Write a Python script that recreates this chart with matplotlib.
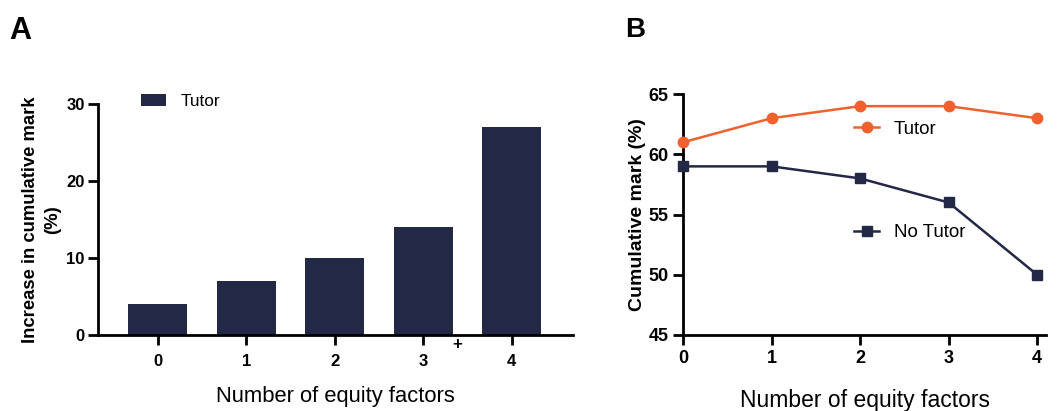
import matplotlib.pyplot as plt
from matplotlib.lines import Line2D

plt.rcParams["font.family"] = ["Liberation Sans", "DejaVu Sans"]

# 数据
factors = [0, 1, 2, 3, 4]
factor_labels = ["0", "1", "2", "3", "4"]
increase_tutor = [4, 7, 10, 14, 27]
mark_tutor = [61, 63, 64, 64, 63]
mark_no_tutor = [59, 59, 58, 56, 50]

NAVY = "#222846"
ORANGE = "#EF6230"

fig = plt.figure(figsize=(10.59, 4.11), dpi=100)

# ── 左图：柱状图 ─────────────────────────────────────────
ax = fig.add_axes([0.0925, 0.185, 0.4485, 0.562])
ax.bar(factors, increase_tutor, width=0.667, color=NAVY, label="Tutor")
ax.set_xlim(-0.678, 4.69)
ax.set_ylim(0, 30)
ax.set_yticks([0, 10, 20, 30])
ax.set_xticks(factors)
ax.set_xticklabels(factor_labels)
for s in ["top", "right"]:
    ax.spines[s].set_visible(False)
for s in ["left", "bottom"]:
    ax.spines[s].set_linewidth(2)
ax.tick_params(axis="both", length=7.5, width=2, labelsize=12)
ax.tick_params(axis="x", pad=6)
ax.tick_params(axis="y", pad=2)
for lbl in ax.get_xticklabels() + ax.get_yticklabels():
    lbl.set_fontweight("bold")
ax.set_ylabel("Increase in cumulative mark\n(%)", fontsize=13.3,
              fontweight="bold", labelpad=4, linespacing=1.4)
ax.set_xlabel("Number of equity factors", fontsize=15.8, labelpad=12.5)
ax.legend(loc="center left", bbox_to_anchor=(0.057, 1.011), frameon=False,
          fontsize=12.4, handlelength=1.45, handleheight=0.64,
          handletextpad=0.87)
ax.annotate("+", xy=(3.38, 0), xycoords="data", xytext=(0, -1.5),
            textcoords="offset points", ha="center", va="top",
            fontsize=12, fontweight="bold", annotation_clip=False)
fig.text(0.009, 0.925, "A", fontsize=22, fontweight="bold", va="center")

# ── 右图：折线图 ─────────────────────────────────────────
ax2 = fig.add_axes([0.645, 0.185, 0.3427, 0.586])
ax2.plot(factors, mark_tutor, color=ORANGE, marker="o", markersize=7.5,
         linewidth=1.8, clip_on=False, zorder=3)
ax2.plot(factors, mark_no_tutor, color=NAVY, marker="s", markersize=7.5,
         linewidth=1.8, clip_on=False, zorder=3)
ax2.set_xlim(0, 4.1)
ax2.set_ylim(45, 65)
ax2.set_yticks([45, 50, 55, 60, 65])
ax2.set_xticks(factors)
ax2.set_xticklabels(factor_labels)
for s in ["top", "right"]:
    ax2.spines[s].set_visible(False)
for s in ["left", "bottom"]:
    ax2.spines[s].set_linewidth(2)
ax2.tick_params(axis="both", length=7.5, width=2, labelsize=13, pad=3)
for lbl in ax2.get_xticklabels() + ax2.get_yticklabels():
    lbl.set_fontweight("bold")
ax2.set_ylabel("Cumulative mark (%)", fontsize=14, fontweight="bold",
               labelpad=2)
ax2.set_xlabel("Number of equity factors", fontsize=16.5, labelpad=16)

h_tutor = Line2D([], [], color=ORANGE, marker="o", markersize=7.5,
                 linewidth=1.8)
h_none = Line2D([], [], color=NAVY, marker="s", markersize=7.5,
                linewidth=1.8)
leg1 = ax2.legend([h_tutor], ["Tutor"], loc="center left",
                  bbox_to_anchor=(0.425, 0.855), frameon=False, fontsize=13.5,
                  handlelength=1.33, handletextpad=0.8)
ax2.add_artist(leg1)
ax2.legend([h_none], ["No Tutor"], loc="center left",
           bbox_to_anchor=(0.425, 0.425), frameon=False, fontsize=13.5,
           handlelength=1.33, handletextpad=0.8)
fig.text(0.590, 0.928, "B", fontsize=20, fontweight="bold", va="center")

plt.savefig("out.png", dpi=100)
plt.close()
